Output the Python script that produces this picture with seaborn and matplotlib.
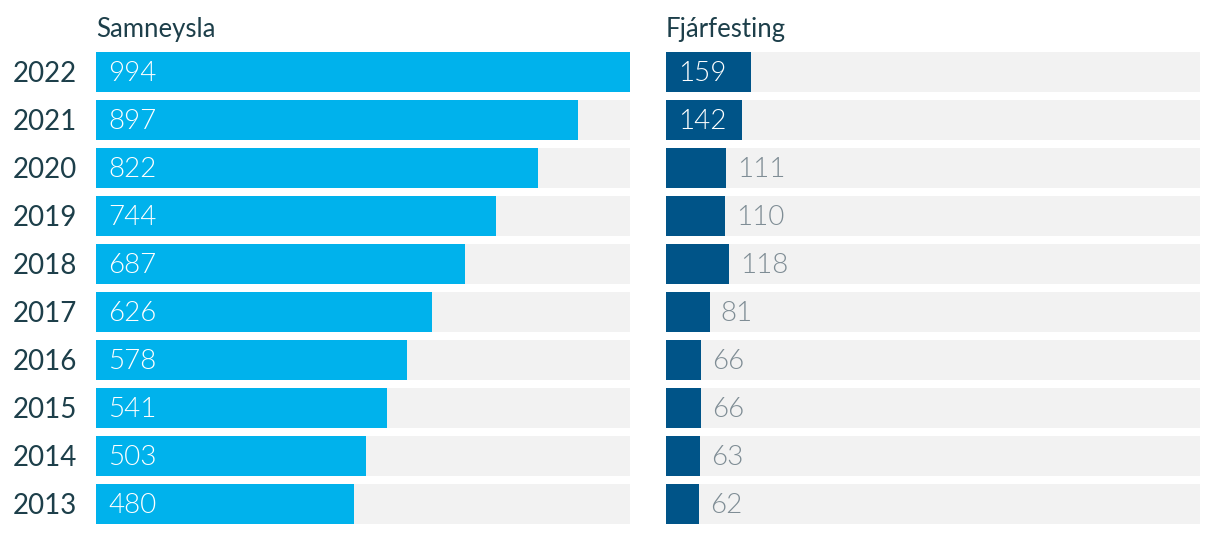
import matplotlib
matplotlib.use("Agg")
import matplotlib.pyplot as plt
import seaborn as sns
import pandas as pd

years = ["2022", "2021", "2020", "2019", "2018", "2017", "2016", "2015", "2014", "2013"]
samneysla = [994, 897, 822, 744, 687, 626, 578, 541, 503, 480]
fjarfesting = [159, 142, 111, 110, 118, 81, 66, 66, 63, 62]
titles = ["Samneysla", "Fjárfesting"]

sns.set_theme(style="white")
plt.rcParams["font.family"] = ["Lato", "DejaVu Sans"]

DARK = "#1d3f4a"
GREY_TXT = "#7f8d95"
TRACK = "#f2f2f2"
colors = ["#00b2ec", "#005488"]

fig = plt.figure(figsize=(12.2, 5.34), dpi=100)
W, H = 1220, 534
ax_w = 534 / W
ax_h = 480 / H
ax_b = (H - 528) / H
lefts = [96 / W, 666 / W]

vmax = max(max(samneysla), max(fjarfesting))

for i, (vals, title) in enumerate(zip([samneysla, fjarfesting], titles)):
    ax = fig.add_axes([lefts[i], ax_b, ax_w, ax_h])
    df = pd.DataFrame({"year": years, "value": vals, "track": [vmax] * len(vals)})
    sns.barplot(data=df, y="year", x="track", color=TRACK, width=40 / 48,
                orient="h", ax=ax, saturation=1, linewidth=0)
    sns.barplot(data=df, y="year", x="value", color=colors[i], width=40 / 48,
                orient="h", ax=ax, saturation=1, linewidth=0)
    ax.set_xlim(0, vmax)
    ax.set_ylim(len(years) - 0.5, -0.5)
    ax.set_xlabel("")
    ax.set_ylabel("")
    ax.set_xticks([])
    for s in ax.spines.values():
        s.set_visible(False)
    px = vmax / 534.0
    for j, v in enumerate(vals):
        if v >= 0.125 * vmax:
            ax.text(12 * px, j + 0.03, str(v), color="white", fontsize=20,
                    fontweight=300, va="center", ha="left")
        else:
            ax.text(v + 11 * px, j + 0.03, str(v), color=GREY_TXT, fontsize=20,
                    fontweight=300, va="center", ha="left")
    if i == 0:
        ax.set_yticks(range(len(years)))
        ax.set_yticklabels(years, fontsize=20, color=DARK)
        ax.tick_params(axis="y", length=0, pad=13.5)
    else:
        ax.set_yticks([])
    ax.text(0, 1 + 19 / 480, title, transform=ax.transAxes, fontsize=18.5,
            color=DARK, ha="left", va="center")

fig.savefig("out.png", dpi=100, facecolor="white")
